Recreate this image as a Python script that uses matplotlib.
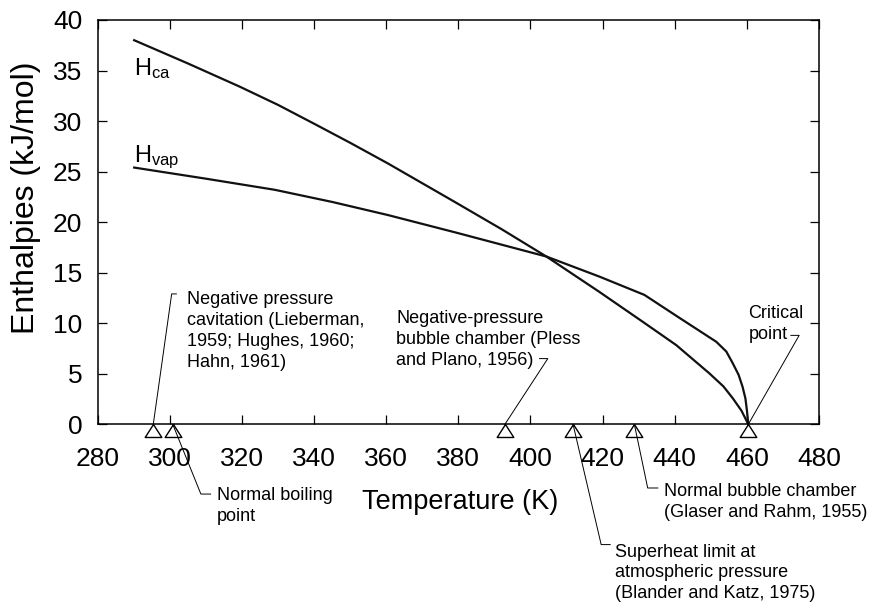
import numpy as np
import matplotlib.pyplot as plt

plt.rcParams['font.family'] = ['Liberation Sans', 'DejaVu Sans']
plt.rcParams['mathtext.default'] = 'regular'

# enthalpy of cavitation and of vaporisation vs temperature
T_ca = [290.1, 305.0, 319.4, 330.0, 340.2, 350.0, 360.5, 379.0, 392.0, 404.4,
        419.1, 431.1, 440.4, 449.6, 453.5, 456.1, 458.5, 460.4]
H_ca = [38.0, 35.7, 33.4, 31.6, 29.7, 27.85, 25.8, 22.0, 19.3, 16.6,
        13.1, 10.15, 7.84, 5.04, 3.75, 2.57, 1.35, 0.0]

T_vap = [290.1, 310.0, 329.1, 345.0, 360.5, 379.0, 404.4, 419.2, 431.6, 441.0,
         451.5, 454.3, 456.1, 457.7, 458.8, 459.6, 460.0, 460.4]
H_vap = [25.4, 24.3, 23.2, 22.0, 20.7, 19.0, 16.6, 14.6, 12.8, 10.6,
         8.17, 7.2, 6.03, 4.9, 3.72, 2.55, 1.41, 0.0]

# experiments marked on the temperature axis
event_T = [295.4, 300.8, 392.9, 411.8, 428.8, 460.4]
event_text = [
    "Negative pressure\ncavitation (Lieberman,\n1959; Hughes, 1960;\nHahn, 1961)",
    "Normal boiling\npoint",
    "Negative-pressure\nbubble chamber (Pless\nand Plano, 1956)",
    "Superheat limit at\natmospheric pressure\n(Blander and Katz, 1975)",
    "Normal bubble chamber\n(Glaser and Rahm, 1955)",
    "Critical\npoint",
]

x_ticks = np.arange(280, 481, 20)
y_ticks = np.arange(0, 41, 5)

# placement of the labels: text corner, elbow of the leader, end of the short arm
label_pos = [
    ((304.7, 13.2), (300.5, 12.9), (301.8, 12.9)),
    ((313.1, -6.2), (308.6, -6.9), (311.3, -6.9)),
    ((362.8, 11.3), (404.8, 6.5), (402.5, 6.5)),
    ((423.3, -11.8), (419.6, -11.9), (422.1, -11.9)),
    ((437.1, -5.8), (432.5, -6.3), (435.3, -6.3)),
    ((460.4, 11.8), (474.5, 8.8), (472.2, 8.8)),
]

fig = plt.figure(figsize=(8.75, 6.04), dpi=100)
ax = fig.add_axes([0.1117, 0.2975, 0.8243, 0.6694])

ax.plot(T_ca, H_ca, color='#111111', lw=1.6, solid_joinstyle='round')
ax.plot(T_vap, H_vap, color='#111111', lw=1.6, solid_joinstyle='round')

ax.text(T_ca[0], 34.55, r'H$_{ca}$', fontsize=17, va='baseline', ha='left')
ax.text(T_vap[0], 25.97, r'H$_{vap}$', fontsize=17, va='baseline', ha='left')

# open triangles hanging under the axis, apex on the axis
tri = [(0, 0), (-0.64, -1), (0.64, -1), (0, 0)]
ax.plot(event_T, np.zeros(len(event_T)), ls='none', marker=tri, ms=18.7,
        mfc='white', mec='black', mew=1.0, clip_on=False, zorder=3)

for t, txt, (tpos, elbow, arm) in zip(event_T, event_text, label_pos):
    ax.plot([t, elbow[0], arm[0]], [0, elbow[1], arm[1]], color='black', lw=0.7,
            clip_on=False, zorder=4)
    ax.text(tpos[0], tpos[1], txt, fontsize=13, ha='left', va='top', linespacing=1.3)

ax.set_xlim(280, 480)
ax.set_ylim(0, 40)
ax.set_xticks(x_ticks)
ax.set_yticks(y_ticks)
ax.tick_params(direction='in', top=True, right=True, length=6.5, width=0.9,
               labelsize=19)
ax.tick_params(axis='x', pad=16)
ax.tick_params(axis='y', pad=11)
for sp in ax.spines.values():
    sp.set_linewidth(1.1)

ax.set_xlabel('Temperature (K)', fontsize=19.5)
ax.set_ylabel('Enthalpies (kJ/mol)', fontsize=23)
ax.xaxis.set_label_coords(0.502, -0.16)
ax.yaxis.set_label_coords(-0.078, 0.56)

fig.savefig('out.png', dpi=100)
